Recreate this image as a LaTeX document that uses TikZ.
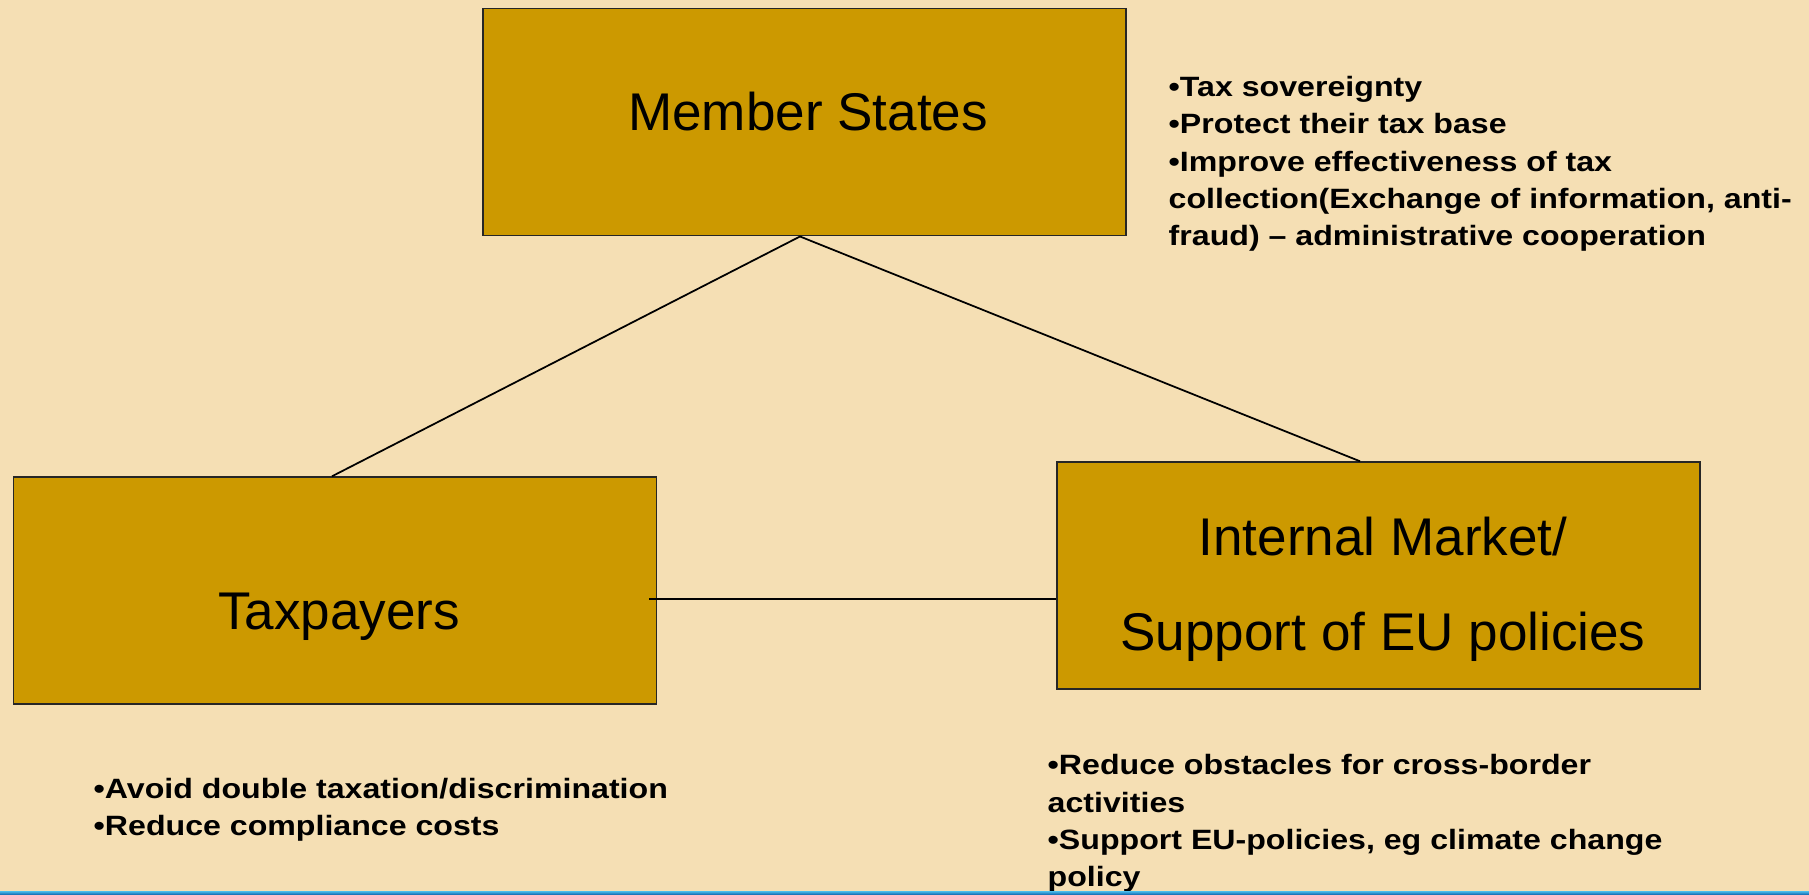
\documentclass[tikz,border=0pt]{standalone}
\usepackage{fontspec}
\setmainfont{Liberation Sans}
\newfontfamily\notefont[FakeStretch=1.15]{Liberation Sans}
\usepackage{xcolor}
\definecolor{paper}{RGB}{245,223,180}
\definecolor{boxgold}{RGB}{204,153,0}
\definecolor{bandtop}{RGB}{70,180,230}
\definecolor{bandlow}{RGB}{10,95,170}

\tikzset{
  box/.style={draw=black!85, line width=0.4pt, fill=boxgold, minimum width=6.43cm, minimum height=2.27cm, inner sep=0pt},
  boxtext/.style={font=\fontsize{15.1}{27.3}\selectfont, align=center, anchor=base, inner sep=0pt},
  note/.style={font=\notefont\bfseries\fontsize{7.95}{10.6}\selectfont, align=left, anchor=base west, inner sep=0pt},
  link/.style={draw=black, line width=0.5pt}
}

\begin{document}
\begin{tikzpicture}
\useasboundingbox (0,0) rectangle (18.09,8.95);
\fill[paper] (0,0) rectangle (18.09,8.95);

% the three parties
\node[box] (ms) at (8.045,7.727) {};
\node[box] (tp) at (3.35,3.045) {};
\node[box] (im) at (13.785,3.195) {};
\node[boxtext] (mstext) at (8.08,7.64) {Member States};
\node[boxtext] (tptext) at (3.39,2.65) {Taxpayers};
% base of a two-line node sits on its last line
\node[boxtext] (imtext) at (13.83,2.44) {Internal Market/\\Support of EU policies};

% connectors
\coordinate (tplink) at (6.49,2.96);
\draw[link] ([xshift=-0.45mm]ms.south) -- ([xshift=-0.3mm]tp.north);
\draw[link] ([xshift=-0.45mm]ms.south) -- ([xshift=-1.85mm]im.north);
\draw[link] (tplink) -- (tplink -| im.west);

% interests (placed at the baseline of the last line)
\node[note] (msnote) at (11.68,6.493) {•Tax sovereignty\\•Protect their tax base\\•Improve effectiveness of tax\\collection(Exchange of information, anti-\\fraud) – administrative cooperation};
\node[note] (tpnote) at (0.93,0.59) {•Avoid double taxation/discrimination\\•Reduce compliance costs};
\node[note] (imnote) at (10.47,0.083) {•Reduce obstacles for cross-border\\activities\\•Support EU-policies, eg climate change\\policy};

% bottom band
\shade[top color=bandtop, bottom color=bandlow] (0,0) rectangle (18.09,0.035);
\end{tikzpicture}
\end{document}
